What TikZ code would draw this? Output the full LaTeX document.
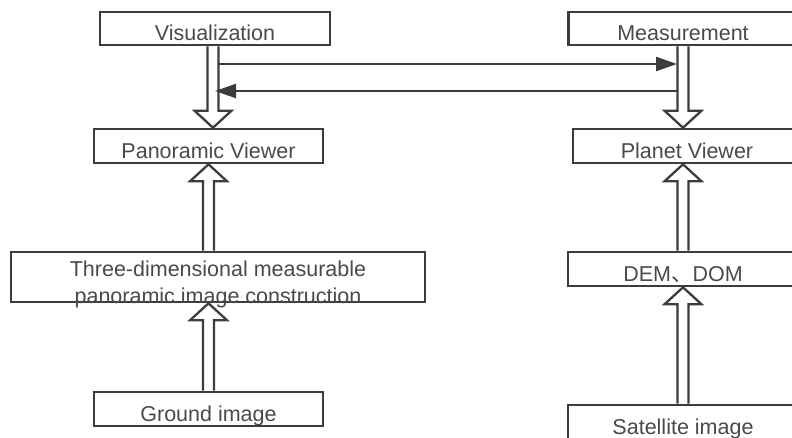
\documentclass[tikz,border=0pt]{standalone}
\usepackage{fontspec}
\setmainfont{Liberation Sans}
\newfontfamily\cjk{Noto Sans CJK SC}
\usetikzlibrary{arrows.meta,calc}
\definecolor{linegray}{HTML}{3C3C3C}
\definecolor{textgray}{HTML}{4A4A4A}
\newcommand{\hollowarrow}[2]{%
  \draw[hollow] let \p1=(#1), \p2=(#2), \n1={sign(\y1-\y2)} in
    (\x1-5.5pt,\y1)--(\x1-5.5pt,{\y2+\n1*17pt})--(\x1-18.5pt,{\y2+\n1*17pt})--(\x1,\y2)
    --(\x1+18.5pt,{\y2+\n1*17pt})--(\x1+5.5pt,{\y2+\n1*17pt})--(\x1+5.5pt,\y1);}
\begin{document}
\begin{tikzpicture}[x=1pt,y=-1pt,
  box/.style={draw=linegray,line width=2.6pt,inner sep=0pt,minimum height=34pt},
  txt/.style={text=textgray,font=\fontsize{21.5}{27}\selectfont,inner sep=0pt,anchor=base,yshift=6pt},
  hollow/.style={draw=linegray,line width=2.3pt,fill=white,line join=miter},
  link/.style={draw=linegray,line width=2.3pt,-{Triangle[length=21pt,width=14pt]}}]
  \useasboundingbox[fill=white] (0,0) rectangle (792,437);
  \node[box,minimum width=230pt,minimum height=33pt,label={[txt]south:Visualization}] (vis) at (215,28.5) {};
  \node[box,minimum width=229pt,label={[txt]south:Panoramic Viewer}] (pan) at (208.5,146) {};
  \node[box,minimum width=414pt,minimum height=50pt,
    label={[txt,align=center,yshift=-6pt]south:Three-dimensional measurable\\panoramic image construction}] (tdm) at (218,277) {};
  \node[box,minimum width=229pt,label={[txt]south:Ground image}] (gnd) at (208.5,409) {};
  \node[box,minimum width=229pt,minimum height=33pt,label={[txt]south:Measurement}] (mea) at (683,28.5) {};
  \node[box,minimum width=228pt,label={[txt]south:Planet Viewer}] (pla) at (687,146) {};
  \node[box,minimum width=230pt,label={[txt]south:DEM{\cjk 、}DOM}] (dem) at (683,269) {};
  \node[box,minimum width=230pt,label={[txt]south:Satellite image}] (sat) at (683,422) {};
  \hollowarrow{[xshift=-2pt]vis.south}{pan.north}
  \hollowarrow{tdm.north -| pan}{pan.south}
  \hollowarrow{gnd.north}{tdm.south}
  \hollowarrow{mea.south}{pla.north}
  \hollowarrow{dem.north}{pla.south}
  \hollowarrow{sat.north}{dem.south}
  \coordinate (vshaft1) at (218.5,64);
  \coordinate (mshaft1) at (677,64);
  \coordinate (mshaft2) at (677.5,91);
  \coordinate (vshaft2) at (215,91);
  \draw[link] (vshaft1)--(mshaft1);
  \draw[link] (mshaft2)--(vshaft2);
\end{tikzpicture}
\end{document}
